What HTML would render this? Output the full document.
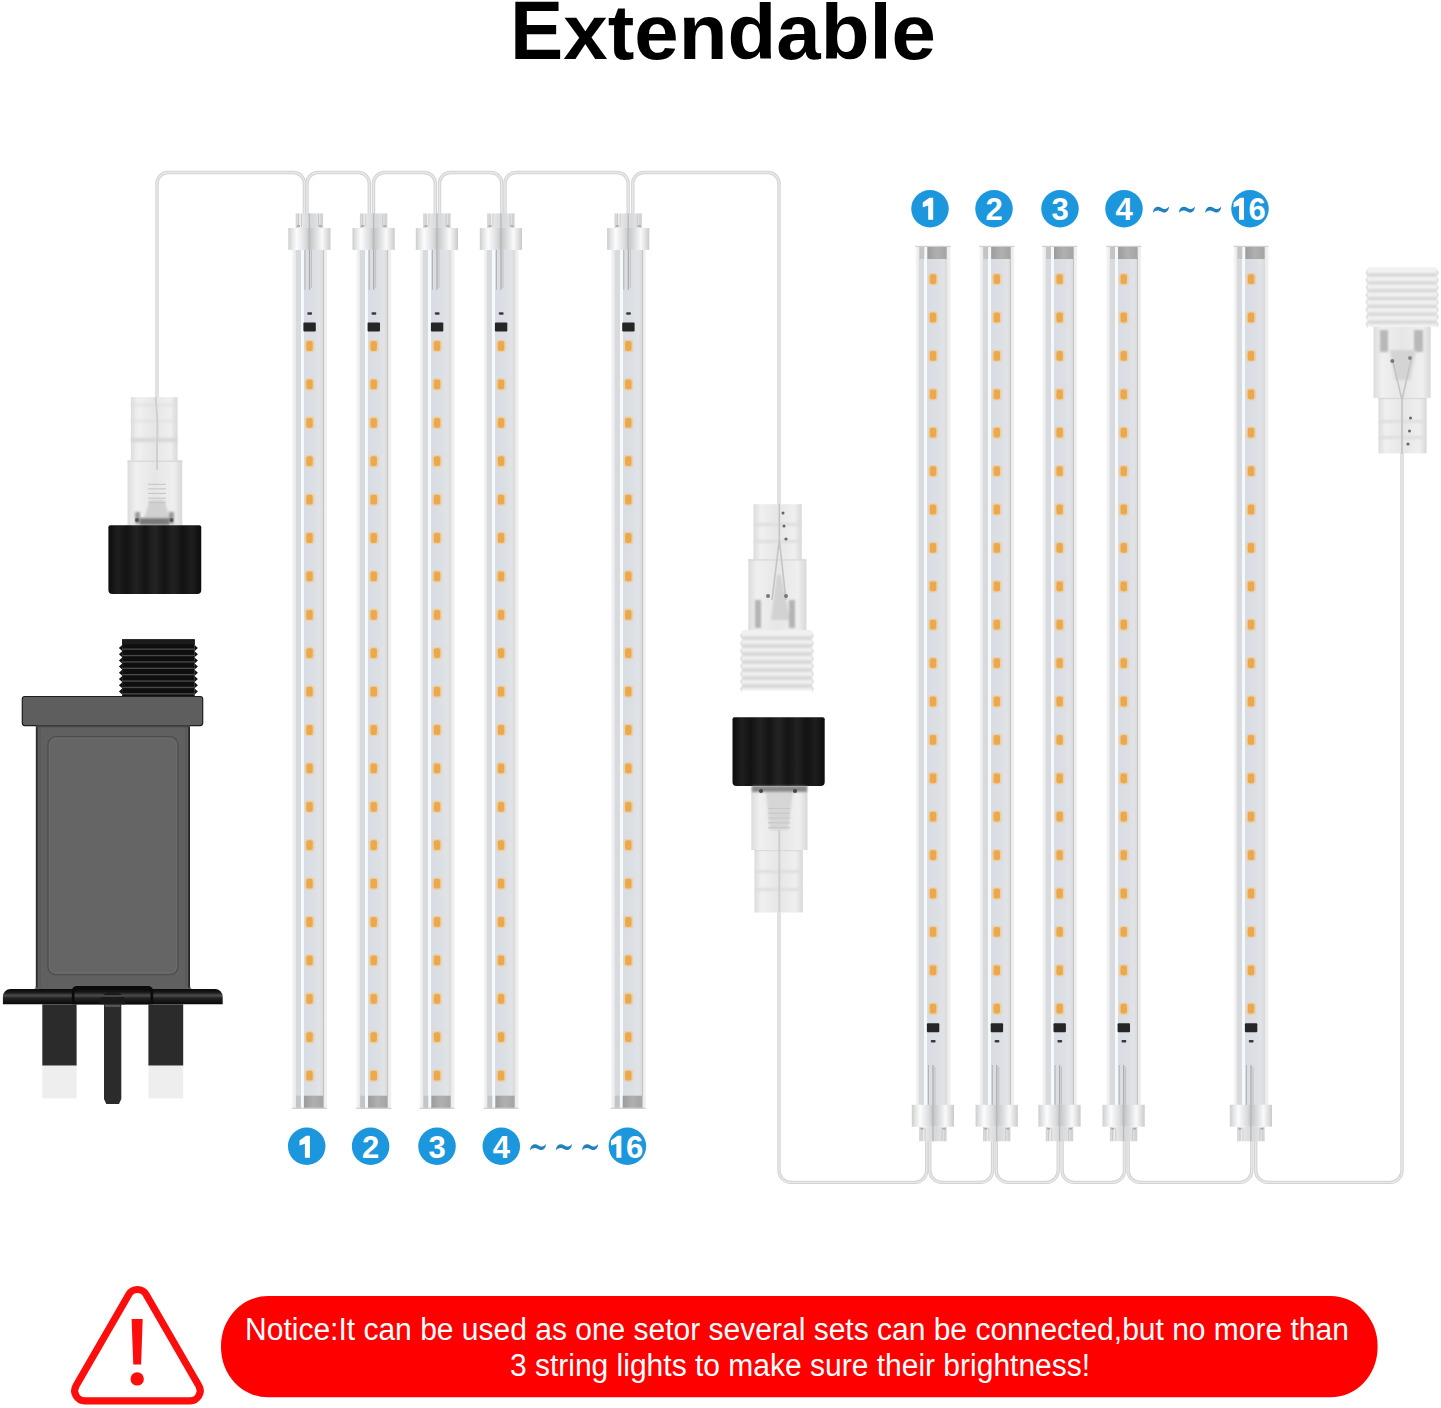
<!DOCTYPE html>
<html><head><meta charset="utf-8"><title>Extendable</title>
<style>
html,body{margin:0;padding:0;background:#fff;}
body{width:1441px;height:1408px;overflow:hidden;position:relative;font-family:"Liberation Sans",sans-serif;}
svg{position:absolute;left:0;top:0;}
.num{font-family:"Liberation Sans",sans-serif;font-weight:bold;font-size:31px;fill:#fff;}
.title{font-family:"Liberation Sans",sans-serif;font-weight:bold;font-size:82px;fill:#000;}
.note{font-family:"Liberation Sans",sans-serif;font-size:30px;fill:#fff;}
</style></head><body>
<svg width="1441" height="1408" viewBox="0 0 1441 1408">
<defs>
<filter id="soft" x="-20%" y="-5%" width="140%" height="110%"><feGaussianBlur stdDeviation="0.7"/></filter>
<filter id="soft2" x="-30%" y="-30%" width="160%" height="160%"><feGaussianBlur stdDeviation="1.2"/></filter>
<linearGradient id="tubeG" gradientUnits="userSpaceOnUse" x1="-17.5" y1="0" x2="17.5" y2="0">
  <stop offset="0" stop-color="#f8f8f9"/>
  <stop offset="0.114" stop-color="#e6e7ea"/>
  <stop offset="0.114" stop-color="#d8dade"/>
  <stop offset="0.251" stop-color="#d8dade"/>
  <stop offset="0.251" stop-color="#f4f9fb"/>
  <stop offset="0.34" stop-color="#f4f9fb"/>
  <stop offset="0.34" stop-color="#d9dce2"/>
  <stop offset="0.64" stop-color="#dcdfe4"/>
  <stop offset="0.78" stop-color="#e2e3e6"/>
  <stop offset="0.889" stop-color="#dadbdd"/>
  <stop offset="0.889" stop-color="#c4c4c4"/>
  <stop offset="0.906" stop-color="#c4c4c4"/>
  <stop offset="0.906" stop-color="#ebebeb"/>
  <stop offset="1" stop-color="#f2f2f2"/>
</linearGradient>
<linearGradient id="capG" x1="0" y1="0" x2="1" y2="0">
  <stop offset="0" stop-color="#9c9c9c"/>
  <stop offset="0.5" stop-color="#b0b0b0"/>
  <stop offset="1" stop-color="#a4a4a4"/>
</linearGradient>
<linearGradient id="conNG" x1="0" y1="0" x2="1" y2="0">
  <stop offset="0" stop-color="#d0d0d0"/>
  <stop offset="0.15" stop-color="#ececec"/>
  <stop offset="0.4" stop-color="#dcdde0"/>
  <stop offset="0.6" stop-color="#d6d8da"/>
  <stop offset="0.85" stop-color="#e4e4e4"/>
  <stop offset="1" stop-color="#cfcfcf"/>
</linearGradient>
<linearGradient id="conWG" x1="0" y1="0" x2="1" y2="0">
  <stop offset="0" stop-color="#cdcdcd"/>
  <stop offset="0.08" stop-color="#e2e2e2"/>
  <stop offset="0.2" stop-color="#fbfcfd"/>
  <stop offset="0.42" stop-color="#d8dadc"/>
  <stop offset="0.5" stop-color="#c2c4c6"/>
  <stop offset="0.62" stop-color="#d6d8da"/>
  <stop offset="0.8" stop-color="#f8f9fa"/>
  <stop offset="0.92" stop-color="#dedede"/>
  <stop offset="1" stop-color="#cacaca"/>
</linearGradient>
<linearGradient id="capBlk" x1="0" y1="0" x2="1" y2="0">
  <stop offset="0" stop-color="#0c0c0c"/>
  <stop offset="0.1" stop-color="#1e1e1e"/>
  <stop offset="0.2" stop-color="#121212"/>
  <stop offset="0.3" stop-color="#222"/>
  <stop offset="0.4" stop-color="#141414"/>
  <stop offset="0.5" stop-color="#242424"/>
  <stop offset="0.6" stop-color="#141414"/>
  <stop offset="0.7" stop-color="#222"/>
  <stop offset="0.8" stop-color="#121212"/>
  <stop offset="0.9" stop-color="#1e1e1e"/>
  <stop offset="1" stop-color="#0c0c0c"/>
</linearGradient>
<linearGradient id="clearG" x1="0" y1="0" x2="1" y2="0">
  <stop offset="0" stop-color="#dcdcdc"/>
  <stop offset="0.15" stop-color="#f0f0f0"/>
  <stop offset="0.5" stop-color="#e6e6e6"/>
  <stop offset="0.85" stop-color="#efefef"/>
  <stop offset="1" stop-color="#d8d8d8"/>
</linearGradient>
<linearGradient id="flangeG" x1="0" y1="0" x2="0" y2="1">
  <stop offset="0" stop-color="#0a0a0a"/>
  <stop offset="0.2" stop-color="#161616"/>
  <stop offset="0.42" stop-color="#4a4a4a"/>
  <stop offset="0.62" stop-color="#202020"/>
  <stop offset="1" stop-color="#080808"/>
</linearGradient>

<g id="bar">
  <rect x="-17.5" y="36" width="35" height="859" fill="url(#tubeG)"/>
  <rect x="-17.5" y="894" width="35" height="1.2" fill="#cfcfcf"/>
  <rect x="-5.6" y="882" width="19.2" height="12" fill="url(#capG)"/>
  <rect x="-13.5" y="882" width="4.8" height="12" fill="#c4c4c4"/>
  <g filter="url(#soft)"><rect x="-4.9" y="126.1" width="9.8" height="12.4" rx="3" fill="#ecd0a6"/><rect x="-3.2" y="127.4" width="6.4" height="9.8" rx="2" fill="#eaa84f"/><rect x="-4.9" y="164.5" width="9.8" height="12.4" rx="3" fill="#ecd0a6"/><rect x="-3.2" y="165.8" width="6.4" height="9.8" rx="2" fill="#eaa84f"/><rect x="-4.9" y="202.9" width="9.8" height="12.4" rx="3" fill="#ecd0a6"/><rect x="-3.2" y="204.2" width="6.4" height="9.8" rx="2" fill="#eaa84f"/><rect x="-4.9" y="241.3" width="9.8" height="12.4" rx="3" fill="#ecd0a6"/><rect x="-3.2" y="242.6" width="6.4" height="9.8" rx="2" fill="#eaa84f"/><rect x="-4.9" y="279.7" width="9.8" height="12.4" rx="3" fill="#ecd0a6"/><rect x="-3.2" y="281.0" width="6.4" height="9.8" rx="2" fill="#eaa84f"/><rect x="-4.9" y="318.1" width="9.8" height="12.4" rx="3" fill="#ecd0a6"/><rect x="-3.2" y="319.4" width="6.4" height="9.8" rx="2" fill="#eaa84f"/><rect x="-4.9" y="356.5" width="9.8" height="12.4" rx="3" fill="#ecd0a6"/><rect x="-3.2" y="357.8" width="6.4" height="9.8" rx="2" fill="#eaa84f"/><rect x="-4.9" y="394.9" width="9.8" height="12.4" rx="3" fill="#ecd0a6"/><rect x="-3.2" y="396.2" width="6.4" height="9.8" rx="2" fill="#eaa84f"/><rect x="-4.9" y="433.3" width="9.8" height="12.4" rx="3" fill="#ecd0a6"/><rect x="-3.2" y="434.6" width="6.4" height="9.8" rx="2" fill="#eaa84f"/><rect x="-4.9" y="471.7" width="9.8" height="12.4" rx="3" fill="#ecd0a6"/><rect x="-3.2" y="473.0" width="6.4" height="9.8" rx="2" fill="#eaa84f"/><rect x="-4.9" y="510.1" width="9.8" height="12.4" rx="3" fill="#ecd0a6"/><rect x="-3.2" y="511.4" width="6.4" height="9.8" rx="2" fill="#eaa84f"/><rect x="-4.9" y="548.5" width="9.8" height="12.4" rx="3" fill="#ecd0a6"/><rect x="-3.2" y="549.8" width="6.4" height="9.8" rx="2" fill="#eaa84f"/><rect x="-4.9" y="586.9" width="9.8" height="12.4" rx="3" fill="#ecd0a6"/><rect x="-3.2" y="588.2" width="6.4" height="9.8" rx="2" fill="#eaa84f"/><rect x="-4.9" y="625.3" width="9.8" height="12.4" rx="3" fill="#ecd0a6"/><rect x="-3.2" y="626.6" width="6.4" height="9.8" rx="2" fill="#eaa84f"/><rect x="-4.9" y="663.7" width="9.8" height="12.4" rx="3" fill="#ecd0a6"/><rect x="-3.2" y="665.0" width="6.4" height="9.8" rx="2" fill="#eaa84f"/><rect x="-4.9" y="702.1" width="9.8" height="12.4" rx="3" fill="#ecd0a6"/><rect x="-3.2" y="703.4" width="6.4" height="9.8" rx="2" fill="#eaa84f"/><rect x="-4.9" y="740.5" width="9.8" height="12.4" rx="3" fill="#ecd0a6"/><rect x="-3.2" y="741.8" width="6.4" height="9.8" rx="2" fill="#eaa84f"/><rect x="-4.9" y="778.9" width="9.8" height="12.4" rx="3" fill="#ecd0a6"/><rect x="-3.2" y="780.2" width="6.4" height="9.8" rx="2" fill="#eaa84f"/><rect x="-4.9" y="817.3" width="9.8" height="12.4" rx="3" fill="#ecd0a6"/><rect x="-3.2" y="818.6" width="6.4" height="9.8" rx="2" fill="#eaa84f"/><rect x="-4.9" y="855.7" width="9.8" height="12.4" rx="3" fill="#ecd0a6"/><rect x="-3.2" y="857.0" width="6.4" height="9.8" rx="2" fill="#eaa84f"/></g>
  <rect x="-6.1" y="108.7" width="12.4" height="9" rx="1" fill="#262626"/>
  <rect x="-2.2" y="98.5" width="4.8" height="2.6" rx="1" fill="#3a3a3a"/>
  <rect x="-5" y="36" width="1" height="40" fill="#b4b4b4"/>
  <rect x="-0.6" y="36" width="1.2" height="40" fill="#a8a8a8"/>
  <rect x="1.5" y="36" width="1" height="38" fill="#c0c0c0"/>
  <rect x="-13.8" y="-0.3" width="27.4" height="14.6" fill="url(#conNG)"/>
  <rect x="-21.2" y="14.3" width="42.2" height="21.9" fill="url(#conWG)"/>
  <rect x="-0.8" y="-0.3" width="1.4" height="36.5" fill="#b8babd"/>
  <rect x="-11.5" y="0" width="1" height="13" fill="#c6c6c6"/>
  <rect x="-8.5" y="0" width="1" height="13" fill="#cfcfcf"/>
  <rect x="8.5" y="0" width="1" height="13" fill="#c6c6c6"/>
  <rect x="11" y="0" width="1" height="13" fill="#cfcfcf"/>
  <rect x="-12.5" y="11.5" width="3" height="1.6" fill="#a8a8a8"/>
  <rect x="9.5" y="11.5" width="3" height="1.6" fill="#a8a8a8"/>
</g></defs>
<text transform="translate(510,59.4) scale(0.974,1.016)" x="0" y="0" class="title">E</text><text transform="translate(510,59.4) scale(0.974,0.96)" x="54.7" y="0" class="title">xtendable</text>
<g fill="none" stroke="#d3d3d3" stroke-width="3.4"><path d="M157,400 V183.5 A11,11 0 0 1 168,172.5 H293.4 A11,11 0 0 1 304.4,183.5 V218"/><path d="M307,218 V183.5 A11,11 0 0 1 318,172.5 H358.3 A11,11 0 0 1 369.3,183.5 V218"/><path d="M373.5,218 V183.5 A11,11 0 0 1 384.5,172.5 H424.3 A11,11 0 0 1 435.3,183.5 V218"/><path d="M439.5,218 V183.5 A11,11 0 0 1 450.5,172.5 H490.8 A11,11 0 0 1 501.8,183.5 V218"/><path d="M505,218 V183.5 A11,11 0 0 1 516,172.5 H617.2 A11,11 0 0 1 628.2,183.5 V218"/><path d="M632.8,218 V183.5 A11,11 0 0 1 643.8,172.5 H768.0 A11,11 0 0 1 779.0,183.5 V506"/><path d="M779.0,910 V1170.4 A12,12 0 0 0 791.0,1182.4 H914.7 A12,12 0 0 0 926.7,1170.4 V1138"/><path d="M929.8,1138 V1170.4 A12,12 0 0 0 941.8,1182.4 H980.6 A12,12 0 0 0 992.6,1170.4 V1138"/><path d="M996.2,1138 V1170.4 A12,12 0 0 0 1008.2,1182.4 H1046.2 A12,12 0 0 0 1058.2,1170.4 V1138"/><path d="M1062.1,1138 V1170.4 A12,12 0 0 0 1074.1,1182.4 H1112.5 A12,12 0 0 0 1124.5,1170.4 V1138"/><path d="M1128.1,1138 V1170.4 A12,12 0 0 0 1140.1,1182.4 H1239.8 A12,12 0 0 0 1251.8,1170.4 V1138"/><path d="M1255.7,1138 V1170.4 A12,12 0 0 0 1267.7,1182.4 H1390 A12,12 0 0 0 1402,1170.4 V452"/></g>
<g fill="none" stroke="#e8e8e8" stroke-width="1.4"><path d="M157,400 V183.5 A11,11 0 0 1 168,172.5 H293.4 A11,11 0 0 1 304.4,183.5 V218"/><path d="M307,218 V183.5 A11,11 0 0 1 318,172.5 H358.3 A11,11 0 0 1 369.3,183.5 V218"/><path d="M373.5,218 V183.5 A11,11 0 0 1 384.5,172.5 H424.3 A11,11 0 0 1 435.3,183.5 V218"/><path d="M439.5,218 V183.5 A11,11 0 0 1 450.5,172.5 H490.8 A11,11 0 0 1 501.8,183.5 V218"/><path d="M505,218 V183.5 A11,11 0 0 1 516,172.5 H617.2 A11,11 0 0 1 628.2,183.5 V218"/><path d="M632.8,218 V183.5 A11,11 0 0 1 643.8,172.5 H768.0 A11,11 0 0 1 779.0,183.5 V506"/><path d="M779.0,910 V1170.4 A12,12 0 0 0 791.0,1182.4 H914.7 A12,12 0 0 0 926.7,1170.4 V1138"/><path d="M929.8,1138 V1170.4 A12,12 0 0 0 941.8,1182.4 H980.6 A12,12 0 0 0 992.6,1170.4 V1138"/><path d="M996.2,1138 V1170.4 A12,12 0 0 0 1008.2,1182.4 H1046.2 A12,12 0 0 0 1058.2,1170.4 V1138"/><path d="M1062.1,1138 V1170.4 A12,12 0 0 0 1074.1,1182.4 H1112.5 A12,12 0 0 0 1124.5,1170.4 V1138"/><path d="M1128.1,1138 V1170.4 A12,12 0 0 0 1140.1,1182.4 H1239.8 A12,12 0 0 0 1251.8,1170.4 V1138"/><path d="M1255.7,1138 V1170.4 A12,12 0 0 0 1267.7,1182.4 H1390 A12,12 0 0 0 1402,1170.4 V452"/></g>
<use href="#bar" transform="translate(309.5,213.7)"/><use href="#bar" transform="translate(373.7,213.7)"/><use href="#bar" transform="translate(437,213.7)"/><use href="#bar" transform="translate(501,213.7)"/><use href="#bar" transform="translate(628.3,213.7)"/><use href="#bar" transform="translate(933,1141) scale(1,-1)"/><use href="#bar" transform="translate(996.8,1141) scale(1,-1)"/><use href="#bar" transform="translate(1059.6,1141) scale(1,-1)"/><use href="#bar" transform="translate(1123.7,1141) scale(1,-1)"/><use href="#bar" transform="translate(1251,1141) scale(1,-1)"/>
<circle cx="306.7" cy="1146.3" r="18.75" fill="#1c97dd"/><path transform="translate(309.9,1157.8)" d="M0,0 H-5 V-14.1 L-10.4,-12.4 V-17.2 L-3.8,-22 H0 Z" fill="#fff"/><circle cx="370.6" cy="1146.3" r="18.75" fill="#1c97dd"/><text x="370.6" y="1157.8999999999999" text-anchor="middle" class="num">2</text><circle cx="437" cy="1146.3" r="18.75" fill="#1c97dd"/><text x="437" y="1157.8999999999999" text-anchor="middle" class="num">3</text><circle cx="501.3" cy="1146.3" r="18.75" fill="#1c97dd"/><text x="501.3" y="1157.8999999999999" text-anchor="middle" class="num">4</text><circle cx="627.4" cy="1146.3" r="18.75" fill="#1c97dd"/><path transform="translate(621.4,1157.8)" d="M0,0 H-5 V-14.1 L-10.4,-12.4 V-17.2 L-3.8,-22 H0 Z" fill="#fff"/><text x="626.0" y="1157.8999999999999" class="num">6</text><path transform="translate(530,1144)" d="M0,5.4 C0.5,2 2.8,0.2 5.2,0.3 C7.3,0.4 9,2.1 10.8,2.5 C12.4,2.9 14,2.2 16,0 C15.9,3.6 13.6,6.2 10.9,6.1 C9,6 7.3,4.4 5.4,4.1 C3.6,3.8 1.8,4.6 0,6.2 Z" fill="#2180be"/><path transform="translate(555.9,1144)" d="M0,5.4 C0.5,2 2.8,0.2 5.2,0.3 C7.3,0.4 9,2.1 10.8,2.5 C12.4,2.9 14,2.2 16,0 C15.9,3.6 13.6,6.2 10.9,6.1 C9,6 7.3,4.4 5.4,4.1 C3.6,3.8 1.8,4.6 0,6.2 Z" fill="#2180be"/><path transform="translate(582.1,1144)" d="M0,5.4 C0.5,2 2.8,0.2 5.2,0.3 C7.3,0.4 9,2.1 10.8,2.5 C12.4,2.9 14,2.2 16,0 C15.9,3.6 13.6,6.2 10.9,6.1 C9,6 7.3,4.4 5.4,4.1 C3.6,3.8 1.8,4.6 0,6.2 Z" fill="#2180be"/><circle cx="930" cy="208.8" r="18.75" fill="#1c97dd"/><path transform="translate(933.2,219.70000000000002)" d="M0,0 H-5 V-14.1 L-10.4,-12.4 V-17.2 L-3.8,-22 H0 Z" fill="#fff"/><circle cx="994" cy="208.8" r="18.75" fill="#1c97dd"/><text x="994" y="219.8" text-anchor="middle" class="num">2</text><circle cx="1060" cy="208.8" r="18.75" fill="#1c97dd"/><text x="1060" y="219.8" text-anchor="middle" class="num">3</text><circle cx="1124" cy="208.8" r="18.75" fill="#1c97dd"/><text x="1124" y="219.8" text-anchor="middle" class="num">4</text><circle cx="1250" cy="208.8" r="18.75" fill="#1c97dd"/><path transform="translate(1244,219.70000000000002)" d="M0,0 H-5 V-14.1 L-10.4,-12.4 V-17.2 L-3.8,-22 H0 Z" fill="#fff"/><text x="1248.6" y="219.8" class="num">6</text><path transform="translate(1153,206.5)" d="M0,5.4 C0.5,2 2.8,0.2 5.2,0.3 C7.3,0.4 9,2.1 10.8,2.5 C12.4,2.9 14,2.2 16,0 C15.9,3.6 13.6,6.2 10.9,6.1 C9,6 7.3,4.4 5.4,4.1 C3.6,3.8 1.8,4.6 0,6.2 Z" fill="#2180be"/><path transform="translate(1178.9,206.5)" d="M0,5.4 C0.5,2 2.8,0.2 5.2,0.3 C7.3,0.4 9,2.1 10.8,2.5 C12.4,2.9 14,2.2 16,0 C15.9,3.6 13.6,6.2 10.9,6.1 C9,6 7.3,4.4 5.4,4.1 C3.6,3.8 1.8,4.6 0,6.2 Z" fill="#2180be"/><path transform="translate(1205.2,206.5)" d="M0,5.4 C0.5,2 2.8,0.2 5.2,0.3 C7.3,0.4 9,2.1 10.8,2.5 C12.4,2.9 14,2.2 16,0 C15.9,3.6 13.6,6.2 10.9,6.1 C9,6 7.3,4.4 5.4,4.1 C3.6,3.8 1.8,4.6 0,6.2 Z" fill="#2180be"/>

<g>
  <rect x="122.1" y="639.3" width="72.6" height="58" fill="#0e0e0e"/>
  <path d="M122.2,645.0 l-3.3,3 l3.3,3 Z M194.6,645.0 l3.3,3 l-3.3,3 Z" fill="#111"/><path d="M122.2,651.2 l-3.3,3 l3.3,3 Z M194.6,651.2 l3.3,3 l-3.3,3 Z" fill="#111"/><path d="M122.2,657.4 l-3.3,3 l3.3,3 Z M194.6,657.4 l3.3,3 l-3.3,3 Z" fill="#111"/><path d="M122.2,663.6 l-3.3,3 l3.3,3 Z M194.6,663.6 l3.3,3 l-3.3,3 Z" fill="#111"/><path d="M122.2,669.8 l-3.3,3 l3.3,3 Z M194.6,669.8 l3.3,3 l-3.3,3 Z" fill="#111"/><path d="M122.2,676.0 l-3.3,3 l3.3,3 Z M194.6,676.0 l3.3,3 l-3.3,3 Z" fill="#111"/><path d="M122.2,682.2 l-3.3,3 l3.3,3 Z M194.6,682.2 l3.3,3 l-3.3,3 Z" fill="#111"/><path d="M122.2,688.4 l-3.3,3 l3.3,3 Z M194.6,688.4 l3.3,3 l-3.3,3 Z" fill="#111"/>
  <g filter="url(#soft)"><rect x="122.1" y="648.5" width="72.6" height="1.3" fill="#4a4a4a"/><rect x="122.1" y="654.9" width="72.6" height="1.3" fill="#4a4a4a"/><rect x="122.1" y="661.3" width="72.6" height="1.3" fill="#4a4a4a"/><rect x="122.1" y="667.7" width="72.6" height="1.3" fill="#4a4a4a"/><rect x="122.1" y="674.0" width="72.6" height="1.3" fill="#4a4a4a"/><rect x="122.1" y="680.4" width="72.6" height="1.3" fill="#4a4a4a"/><rect x="122.1" y="686.8" width="72.6" height="1.3" fill="#4a4a4a"/><rect x="122.1" y="693.2" width="72.6" height="1.3" fill="#4a4a4a"/></g>
  <rect x="122.1" y="639.3" width="72.6" height="5" fill="#1c1c1c"/>
  <rect x="22.3" y="696.5" width="180.4" height="29.1" rx="2.5" fill="#5e5e5e" stroke="#1c1c1c" stroke-width="1.2"/>
  <rect x="35.9" y="725.6" width="154.1" height="264" fill="#606060"/>
  <rect x="35.9" y="725.6" width="1.8" height="262" fill="#2c2c2c"/>
  <rect x="188.2" y="725.6" width="1.8" height="262" fill="#262626"/>
  <rect x="39.5" y="725.6" width="1" height="262" fill="#555"/>
  <rect x="185.5" y="725.6" width="1" height="262" fill="#555"/>
  <rect x="47.9" y="736.6" width="130.1" height="238.1" rx="8" fill="#656565" stroke="#4e4e4e" stroke-width="1.3"/>
  <rect x="49.6" y="738.3" width="126.7" height="234.7" rx="7" fill="none" stroke="#6e6e6e" stroke-width="0.8"/>
  <rect x="35.9" y="725.6" width="154.1" height="1.6" fill="#454545"/>
  <path d="M31.9,989.5 A4,4 0 0 0 35.9,985.5 V989.5 Z M194,989.5 A4,4 0 0 1 190,985.5 V989.5 Z" fill="#606060"/>
  <path d="M2.9,996.7 A7.6,7.6 0 0 1 10.5,989.1 H215.1 A7.6,7.6 0 0 1 222.7,996.7 V1004.3 H2.9 Z" fill="url(#flangeG)"/>
  <path d="M71.8,1004.3 V991 A5,5 0 0 1 76.8,986 H148.2 A5,5 0 0 1 153.2,991 V1004.3 Z" fill="#0a0a0a"/>
  <path d="M74.5,1004.3 V993 A4,4 0 0 1 78.5,989 H146.5 A4,4 0 0 1 150.5,993 V1004.3 Z" fill="url(#flangeG)"/>
  <path d="M100,1004.3 Q100,992 112.5,992 Q125,992 125,1004.3 Z" fill="#1a1a1a"/>
  <rect x="102" y="995" width="21" height="2" fill="#555" opacity="0.7"/>
  <rect x="42.3" y="1004.3" width="34.3" height="61.4" fill="#2b2b2b"/>
  <rect x="42.3" y="1065.7" width="34.3" height="32.7" fill="#eeeeee"/>
  <rect x="148.4" y="1004.3" width="34.8" height="61.4" fill="#2b2b2b"/>
  <rect x="148.4" y="1065.7" width="34.8" height="32.7" fill="#eeeeee"/>
  <path d="M104,1004.3 H121.3 V1099 L119,1104 H106.3 L104,1099 Z" fill="#2b2b2b"/>
  <rect x="105" y="1005" width="15.3" height="2" fill="#555"/>
</g>

<g>
  <rect x="130.9" y="397.2" width="46.6" height="63.3" fill="url(#clearG)"/>
  <g filter="url(#soft2)" opacity="0.9">
    <rect x="131" y="438" width="46" height="4" fill="#d6d6d6"/>
    <rect x="131" y="404" width="46" height="2" fill="#e0e0e0"/>
    <rect x="131" y="420" width="46" height="2" fill="#e0e0e0"/>
  </g>
  <rect x="127.5" y="460.5" width="54.7" height="64.8" fill="url(#clearG)"/>
  <rect x="127.5" y="460.5" width="54.7" height="1.2" fill="#d4d4d4"/>
  <path d="M155.8,397 C156.5,410 158.5,425 157,445 V470" stroke="#cfcfcf" stroke-width="2" fill="none"/>
  <g filter="url(#soft2)">
    <path d="M143,522 L150,500 H164 L171,522 Z" fill="#d0d0d0"/>
    <rect x="135" y="512" width="5" height="12" fill="#9a9a9a"/>
    <rect x="169" y="512" width="5" height="12" fill="#9a9a9a"/>
    <rect x="140" y="518" width="29" height="7" fill="#7a7a7a"/>
  </g>
  <rect x="148" y="483.8" width="18" height="1.1" fill="#c6c6c6"/><rect x="148" y="488.3" width="18" height="1.1" fill="#c6c6c6"/><rect x="148" y="492.9" width="18" height="1.1" fill="#c6c6c6"/><rect x="148" y="497.6" width="18" height="1.1" fill="#c6c6c6"/><rect x="148" y="502.1" width="18" height="1.1" fill="#c6c6c6"/>
  <circle cx="137" cy="520" r="2" fill="#555"/>
  <circle cx="171.5" cy="520" r="2" fill="#555"/>
  <path d="M108.4,527.3 Q108.4,525.3 110.4,525.3 H199.25 Q201.25,525.3 201.25,527.3 V590.0 Q201.25,594.0 197.25,594.0 H112.4 Q108.4,594.0 108.4,590.0 Z" fill="url(#capBlk)"/>
</g>

<g>
  <rect x="753.5" y="504.2" width="48.2" height="55.1" fill="url(#clearG)"/>
  <rect x="748.3" y="559.3" width="58.1" height="70.8" fill="url(#clearG)"/>
  <rect x="748.3" y="559.3" width="58.1" height="1.2" fill="#d6d6d6"/>
  <g filter="url(#soft2)">
    <rect x="754" y="523" width="47" height="3" fill="#dedede"/>
    <rect x="754" y="540" width="47" height="3" fill="#dedede"/>
    <path d="M771,620 L777,575 H781 L790,620 Z" fill="#d2d2d2"/>
    <rect x="755" y="600" width="6" height="28" fill="#b4b4b4"/>
    <rect x="789" y="600" width="6" height="28" fill="#b4b4b4"/>
  </g>
  <path d="M779.3,504 V540 L772,600 M779.3,540 L786,600" stroke="#c4c4c4" stroke-width="1.6" fill="none"/>
  <circle cx="783" cy="513" r="1.5" fill="#666"/>
  <circle cx="784" cy="526" r="1.5" fill="#666"/>
  <circle cx="786" cy="539" r="1.6" fill="#666"/>
  <circle cx="768" cy="596" r="2" fill="#777"/>
  <circle cx="786" cy="596" r="2" fill="#777"/>
  <rect x="742" y="630" width="70" height="60.4" rx="2" fill="#f0f0f0"/>
  <path d="M742.2,632.0 l-2.3,3.8 l2.3,3.8 Z M811.8,632.0 l2.3,3.8 l-2.3,3.8 Z" fill="#e2e2e2"/><path d="M742.2,639.6 l-2.3,3.8 l2.3,3.8 Z M811.8,639.6 l2.3,3.8 l-2.3,3.8 Z" fill="#e2e2e2"/><path d="M742.2,647.2 l-2.3,3.8 l2.3,3.8 Z M811.8,647.2 l2.3,3.8 l-2.3,3.8 Z" fill="#e2e2e2"/><path d="M742.2,654.8 l-2.3,3.8 l2.3,3.8 Z M811.8,654.8 l2.3,3.8 l-2.3,3.8 Z" fill="#e2e2e2"/><path d="M742.2,662.4 l-2.3,3.8 l2.3,3.8 Z M811.8,662.4 l2.3,3.8 l-2.3,3.8 Z" fill="#e2e2e2"/><path d="M742.2,670.0 l-2.3,3.8 l2.3,3.8 Z M811.8,670.0 l2.3,3.8 l-2.3,3.8 Z" fill="#e2e2e2"/><path d="M742.2,677.6 l-2.3,3.8 l2.3,3.8 Z M811.8,677.6 l2.3,3.8 l-2.3,3.8 Z" fill="#e2e2e2"/><path d="M742.2,685.2 l-2.3,3.8 l2.3,3.8 Z M811.8,685.2 l2.3,3.8 l-2.3,3.8 Z" fill="#e2e2e2"/>
  <g filter="url(#soft2)"><rect x="742" y="636.4" width="70" height="3.2" fill="#d4d4d4"/><rect x="742" y="644.4" width="70" height="3.2" fill="#d4d4d4"/><rect x="742" y="652.4" width="70" height="3.2" fill="#d4d4d4"/><rect x="742" y="660.4" width="70" height="3.2" fill="#d4d4d4"/><rect x="742" y="668.4" width="70" height="3.2" fill="#d4d4d4"/><rect x="742" y="676.4" width="70" height="3.2" fill="#d4d4d4"/><rect x="742" y="684.4" width="70" height="3.2" fill="#d4d4d4"/></g>
  <path d="M732.5,719.2 Q732.5,717.2 734.5,717.2 H822.7 Q824.7,717.2 824.7,719.2 V782.0 Q824.7,786.0 820.7,786.0 H736.5 Q732.5,786.0 732.5,782.0 Z" fill="url(#capBlk)"/>
  <rect x="751.3" y="786" width="56.2" height="64" fill="url(#clearG)"/>
  <rect x="754.4" y="850" width="48.4" height="62.5" fill="url(#clearG)"/>
  <rect x="754.4" y="850" width="48.4" height="1.2" fill="#dadada"/>
  <g filter="url(#soft2)">
    <rect x="752" y="786" width="55" height="6" fill="#8a8a8a"/>
    <path d="M766,792 L770,830 H788 L793,792 Z" fill="#d6d6d6"/>
    <rect x="755" y="870" width="47" height="3" fill="#dedede"/>
    <rect x="755" y="888" width="47" height="3" fill="#dedede"/>
  </g>
  <circle cx="761" cy="791" r="2" fill="#444"/>
  <circle cx="795" cy="791" r="2" fill="#444"/>
  <path d="M779.3,830 V912" stroke="#cdcdcd" stroke-width="1.8" fill="none"/>
  <rect x="768" y="807.9" width="22" height="1.1" fill="#c8c8c8"/><rect x="768" y="812.7" width="22" height="1.1" fill="#c8c8c8"/><rect x="768" y="817.5" width="22" height="1.1" fill="#c8c8c8"/><rect x="768" y="822.2" width="22" height="1.1" fill="#c8c8c8"/><rect x="768" y="827.1" width="22" height="1.1" fill="#c8c8c8"/>
</g>

<g>
  <rect x="1367.5" y="267.2" width="69.4" height="59.6" rx="2" fill="#f1f1f1"/>
  <path d="M1367.7,269.0 l-2.3,3.7 l2.3,3.7 Z M1436.7,269.0 l2.3,3.7 l-2.3,3.7 Z" fill="#e0e0e0"/><path d="M1367.7,276.4 l-2.3,3.7 l2.3,3.7 Z M1436.7,276.4 l2.3,3.7 l-2.3,3.7 Z" fill="#e0e0e0"/><path d="M1367.7,283.8 l-2.3,3.7 l2.3,3.7 Z M1436.7,283.8 l2.3,3.7 l-2.3,3.7 Z" fill="#e0e0e0"/><path d="M1367.7,291.2 l-2.3,3.7 l2.3,3.7 Z M1436.7,291.2 l2.3,3.7 l-2.3,3.7 Z" fill="#e0e0e0"/><path d="M1367.7,298.6 l-2.3,3.7 l2.3,3.7 Z M1436.7,298.6 l2.3,3.7 l-2.3,3.7 Z" fill="#e0e0e0"/><path d="M1367.7,306.0 l-2.3,3.7 l2.3,3.7 Z M1436.7,306.0 l2.3,3.7 l-2.3,3.7 Z" fill="#e0e0e0"/><path d="M1367.7,313.4 l-2.3,3.7 l2.3,3.7 Z M1436.7,313.4 l2.3,3.7 l-2.3,3.7 Z" fill="#e0e0e0"/><path d="M1367.7,320.8 l-2.3,3.7 l2.3,3.7 Z M1436.7,320.8 l2.3,3.7 l-2.3,3.7 Z" fill="#e0e0e0"/>
  <g filter="url(#soft2)"><rect x="1367.5" y="273.3" width="69.5" height="3.2" fill="#d6d6d6"/><rect x="1367.5" y="281.2" width="69.5" height="3.2" fill="#d6d6d6"/><rect x="1367.5" y="289.0" width="69.5" height="3.2" fill="#d6d6d6"/><rect x="1367.5" y="296.9" width="69.5" height="3.2" fill="#d6d6d6"/><rect x="1367.5" y="304.8" width="69.5" height="3.2" fill="#d6d6d6"/><rect x="1367.5" y="312.6" width="69.5" height="3.2" fill="#d6d6d6"/><rect x="1367.5" y="320.5" width="69.5" height="3.2" fill="#d6d6d6"/></g>
  <rect x="1373.5" y="326.8" width="57.2" height="71.1" fill="url(#clearG)"/>
  <rect x="1378.4" y="397.9" width="48.2" height="55.5" fill="url(#clearG)"/>
  <rect x="1378.4" y="397.9" width="48.2" height="1.2" fill="#d8d8d8"/>
  <g filter="url(#soft2)">
    <rect x="1380" y="330" width="8" height="22" fill="#b8b8b8"/>
    <rect x="1414" y="330" width="9" height="22" fill="#b8b8b8"/>
    <path d="M1390,350 L1395,380 H1410 L1416,350 Z" fill="#d4d4d4"/>
    <rect x="1379" y="420" width="47" height="3" fill="#dedede"/>
    <rect x="1379" y="436" width="47" height="3" fill="#dedede"/>
  </g>
  <path d="M1393,362 L1402,400 V454 M1411,360 L1402,400" stroke="#c4c4c4" stroke-width="1.6" fill="none"/>
  <circle cx="1392.3" cy="361" r="2" fill="#777"/>
  <circle cx="1410" cy="358" r="2" fill="#888"/>
  <circle cx="1410.5" cy="418" r="1.5" fill="#666"/>
  <circle cx="1409.5" cy="431" r="1.5" fill="#666"/>
  <circle cx="1408" cy="444" r="1.6" fill="#666"/>
</g>

<rect x="221" y="1296" width="1156.6" height="101.3" rx="47" ry="50" fill="#fe0000"/>
<path d="M140,1292.5 L200,1396.5 A5,5 0 0 1 195.5,1400.5 H79.5 A5,5 0 0 1 75,1396.5 Z" fill="none"/>


<path d="M146.11,1294.5 L198.84,1385.8 A10,10 0 0 1 190.18,1400.8 L84.72,1400.8 A10,10 0 0 1 76.06,1385.8 L128.79,1294.5 A10,10 0 0 1 146.11,1294.5 Z"
  fill="none" stroke="#fe0d0d" stroke-width="7.2"/>
<path d="M131.6,1318.9 H142.7 L141.1,1364.4 H133.3 Z" fill="#fe0d0d"/>
<circle cx="137.2" cy="1378.9" r="6.7" fill="#fe0d0d"/>

<text transform="translate(797,1340.2) scale(1,1.02)" x="0" y="0" text-anchor="middle" class="note">Notice:It can be used as one setor several sets can be connected,but no more than</text>
<text transform="translate(800,1376.3) scale(1,1.02)" x="0" y="0" text-anchor="middle" class="note">3 string lights to make sure their brightness!</text>
</svg>
</body></html>
